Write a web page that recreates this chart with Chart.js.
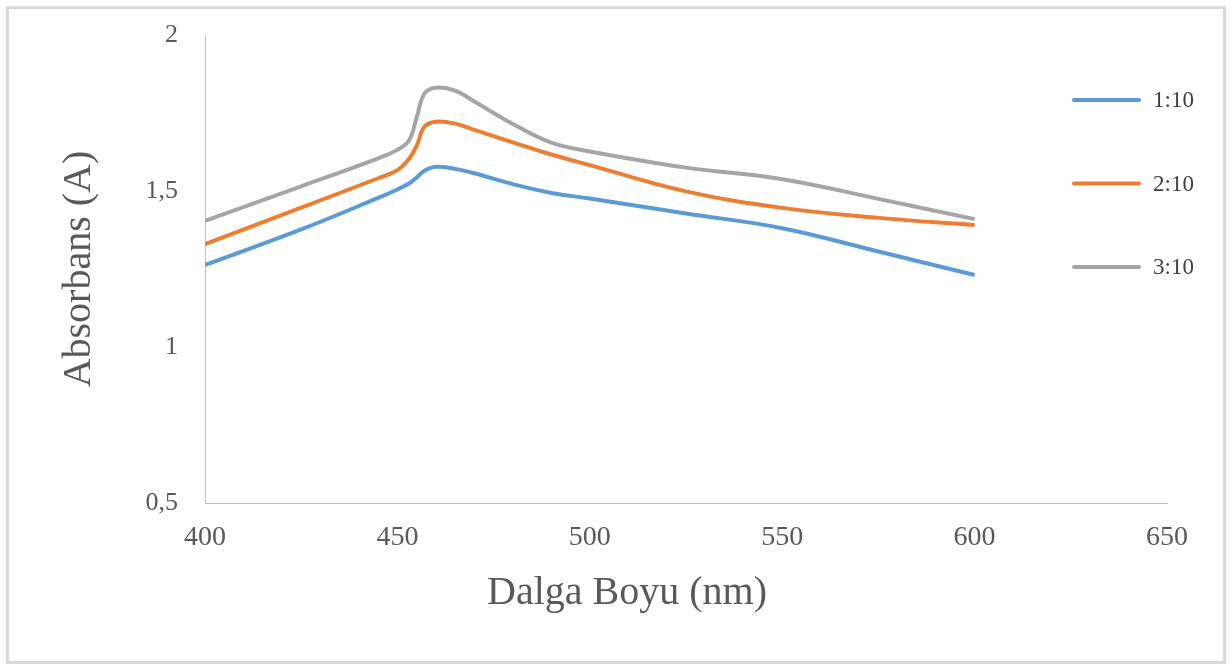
<!DOCTYPE html>
<html>
<head>
<meta charset="utf-8">
<title>Absorbans</title>
<script src="https://cdn.jsdelivr.net/npm/chart.js@4.4.1/dist/chart.umd.min.js"></script>
<style>
    html, body { margin: 0; padding: 0; background: #fff; }
    #wrap { position: relative; width: 1231px; height: 665px; overflow: hidden; }
    #frame {
        position: absolute; left: 6px; top: 6px; width: 1220px; height: 658px;
        box-sizing: border-box; border: 3px solid #d9d9d9; pointer-events: none;
    }
    #chart { position: absolute; left: 0; top: 0; }
</style>
</head>
<body>
<div id="wrap">
    <div id="frame"></div>
    <canvas id="chart" width="1231" height="665"></canvas>
</div>
<script>
// === DATA ===
const wavelengths = [400, 425, 445, 450, 453, 455, 457, 460, 465, 470, 480, 490, 500, 525, 550, 575, 600];
const ratio1 = [1.263, 1.377, 1.478, 1.505, 1.524, 1.543, 1.565, 1.578, 1.571, 1.557, 1.522, 1.494, 1.476, 1.428, 1.381, 1.306, 1.231]; // 1:10
const ratio2 = [1.330, 1.447, 1.541, 1.567, 1.603, 1.645, 1.706, 1.722, 1.716, 1.696, 1.656, 1.617, 1.583, 1.499, 1.446, 1.414, 1.391]; // 2:10
const ratio3 = [1.404, 1.515, 1.605, 1.632, 1.662, 1.735, 1.812, 1.831, 1.822, 1.787, 1.715, 1.655, 1.627, 1.575, 1.538, 1.475, 1.410]; // 3:10
const seriesNames = ['1:10', '2:10', '3:10'];
const xTicks = [400, 450, 500, 550, 600, 650];
const yTicks = [0.5, 1, 1.5, 2];

const serif = "'Liberation Serif', 'Times New Roman', serif";
const textGrey = '#595959';
const axisGrey = '#bfbfbf';

const toPoints = (vals) => wavelengths.map((w, i) => ({ x: w, y: vals[i] }));

// Excel-style legend drawn over the plot, right side
const sideLegend = {
    id: 'sideLegend',
    afterDraw(chart) {
        const ctx = chart.ctx;
        const items = Chart.defaults.plugins.legend.labels.generateLabels(chart);
        ctx.save();
        items.forEach((item, i) => {
            const y = 100 + i * 83.5;
            ctx.beginPath();
            ctx.lineWidth = 4;
            ctx.lineCap = 'round';
            ctx.strokeStyle = item.strokeStyle;
            ctx.moveTo(1074, y);
            ctx.lineTo(1139, y);
            ctx.stroke();
            ctx.fillStyle = '#404040';
            ctx.font = '23px ' + serif;
            ctx.textBaseline = 'middle';
            ctx.textAlign = 'left';
            ctx.fillText(item.text, 1153, y + 1);
        });
        ctx.restore();
    }
};

const lineDs = (label, vals, color) => ({
    label: label,
    data: toPoints(vals),
    borderColor: color,
    backgroundColor: color,
    borderWidth: 4,
    tension: 0.4,
    pointRadius: 0,
    fill: false
});

new Chart(document.getElementById('chart'), {
    type: 'line',
    data: {
        datasets: [
            lineDs(seriesNames[0], ratio1, '#5b9bd5'),
            lineDs(seriesNames[1], ratio2, '#ed7d31'),
            lineDs(seriesNames[2], ratio3, '#a5a5a5')
        ]
    },
    options: {
        responsive: false,
        devicePixelRatio: 1,
        animation: false,
        layout: { padding: { left: 23, right: 0, top: 20, bottom: 0 } },
        plugins: {
            legend: { display: false },
            tooltip: { enabled: false },
            title: {
                display: true,
                position: 'bottom',
                fullSize: true,
                text: 'Dalga Boyu (nm)',
                color: textGrey,
                font: { family: serif, size: 40, weight: 'normal', lineHeight: 1.2 },
                padding: { top: 0, bottom: 48 }
            }
        },
        scales: {
            x: {
                type: 'linear',
                min: xTicks[0],
                max: xTicks[xTicks.length - 1],
                afterBuildTicks: (axis) => { axis.ticks = xTicks.map(v => ({ value: v })); },
                afterFit: (axis) => { axis.height = 66; },
                grid: { display: false, drawTicks: false },
                border: { display: true, color: axisGrey, width: 1 },
                ticks: {
                    color: textGrey,
                    padding: 18,
                    maxRotation: 0,
                    font: { family: serif, size: 28, lineHeight: 1.2 }
                }
            },
            y: {
                type: 'linear',
                position: 'left',
                min: yTicks[0],
                max: yTicks[yTicks.length - 1],
                afterBuildTicks: (axis) => { axis.ticks = yTicks.map(v => ({ value: v })); },
                afterFit: (axis) => { axis.width = 182; },
                grid: { display: false, drawTicks: false },
                border: { display: true, color: axisGrey, width: 1 },
                ticks: {
                    color: textGrey,
                    padding: 27,
                    font: { family: serif, size: 26, lineHeight: 0.62 },
                    callback: (v) => String(v).replace('.', ',')
                },
                title: {
                    display: true,
                    text: 'Absorbans (A)',
                    color: textGrey,
                    font: { family: serif, size: 40, lineHeight: 1.2 },
                    padding: { top: 32, bottom: 0 }
                }
            },
            // empty right-hand spacer so the plot ends where the reference does
            spacer: {
                type: 'linear',
                position: 'right',
                min: 0,
                max: 1,
                afterFit: (axis) => { axis.width = 64; },
                grid: { display: false, drawTicks: false },
                border: { display: false },
                ticks: { display: false }
            }
        }
    },
    plugins: [sideLegend]
});
</script>
</body>
</html>
